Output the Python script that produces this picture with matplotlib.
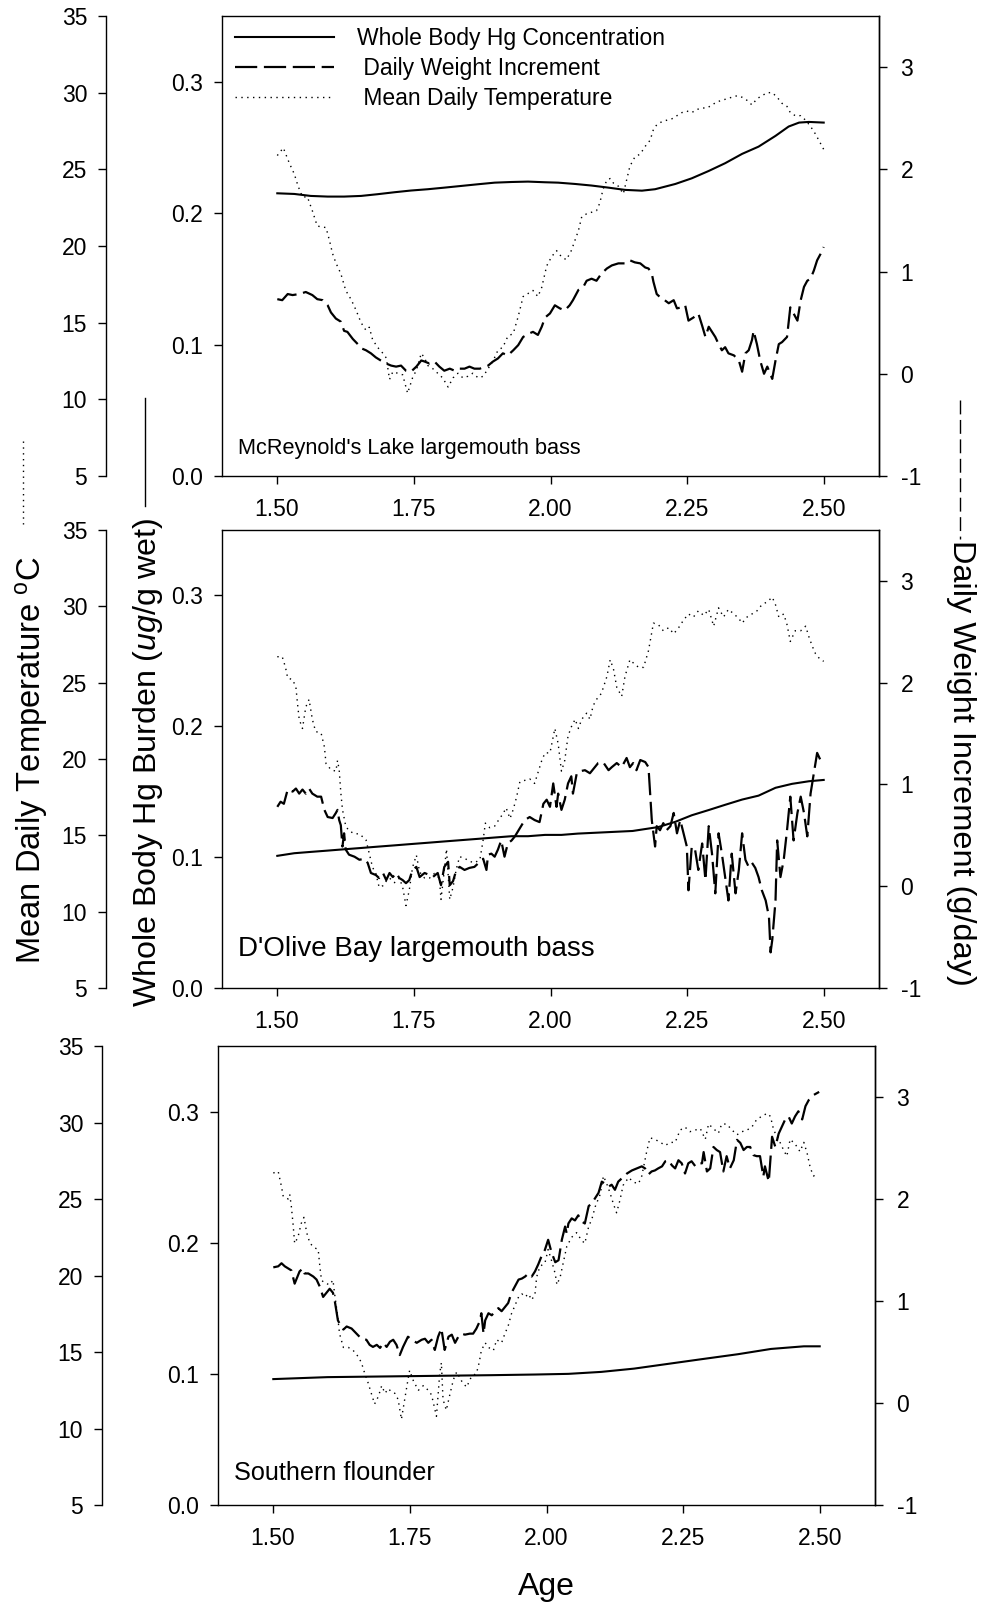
import matplotlib
matplotlib.use('Agg')
import matplotlib.pyplot as plt
from matplotlib.lines import Line2D

plt.rcParams['font.family'] = ['Liberation Sans', 'DejaVu Sans']
plt.rcParams['mathtext.fontset'] = 'custom'
plt.rcParams['mathtext.rm'] = 'Liberation Sans'
plt.rcParams['mathtext.it'] = 'Liberation Sans:italic'

# ---------------- data: McReynold's Lake largemouth bass ----------------
mc_temp_age = [1.501, 1.512, 1.523, 1.532, 1.539, 1.547, 1.556, 1.565, 1.574, 1.590, 1.596, 1.602,
               1.608, 1.617, 1.626, 1.636, 1.645, 1.654, 1.663, 1.669, 1.675, 1.684, 1.694, 1.700,
               1.706, 1.712, 1.721, 1.730, 1.739, 1.748, 1.755, 1.764, 1.770, 1.776, 1.785, 1.794,
               1.803, 1.813, 1.822, 1.831, 1.840, 1.849, 1.858, 1.868, 1.877, 1.886, 1.895, 1.904,
               1.913, 1.922, 1.932, 1.941, 1.950, 1.959, 1.968, 1.977, 1.984, 1.993, 2.002, 2.011,
               2.020, 2.029, 2.038, 2.045, 2.051, 2.057, 2.066, 2.075, 2.084, 2.090, 2.096, 2.103,
               2.109, 2.115, 2.124, 2.133, 2.139, 2.145, 2.154, 2.164, 2.173, 2.182, 2.188, 2.194,
               2.203, 2.212, 2.222, 2.231, 2.240, 2.249, 2.258, 2.267, 2.277, 2.286, 2.295, 2.304,
               2.313, 2.322, 2.331, 2.341, 2.350, 2.359, 2.368, 2.377, 2.386, 2.396, 2.405, 2.414,
               2.423, 2.432, 2.438, 2.447, 2.457, 2.466, 2.475, 2.484, 2.490, 2.499]
mc_temp = [25.9, 26.4, 25.4, 24.7, 23.9, 23.2, 23.2, 22.3, 21.3, 21.2, 20.4, 19.5,
           18.9, 18.2, 17.1, 16.5, 15.8, 15.0, 14.5, 14.7, 13.9, 13.4, 13.0, 12.7,
           11.3, 11.8, 11.7, 11.6, 10.4, 11.4, 11.9, 13.0, 12.7, 12.2, 12.0, 11.7,
           11.4, 10.8, 11.4, 11.7, 11.4, 11.5, 11.7, 11.4, 11.5, 12.0, 12.5, 13.2,
           13.4, 14.1, 14.3, 15.4, 16.7, 16.9, 17.1, 16.7, 17.3, 18.7, 19.3, 19.7,
           19.3, 19.1, 19.7, 20.4, 21.0, 21.9, 22.1, 22.2, 22.3, 22.8, 23.7, 24.3,
           24.4, 24.1, 23.9, 23.4, 24.3, 25.2, 25.8, 26.0, 26.5, 26.9, 27.6, 27.9,
           28.1, 28.2, 28.3, 28.5, 28.7, 28.8, 28.7, 28.9, 29.0, 29.0, 29.2, 29.4,
           29.5, 29.6, 29.7, 29.8, 29.7, 29.5, 29.2, 29.6, 29.8, 30.0, 30.0, 29.7,
           29.3, 29.1, 28.7, 28.5, 28.5, 28.2, 27.8, 27.3, 26.9, 26.3]

mc_wt_age = [1.501, 1.510, 1.520, 1.529, 1.541, 1.553, 1.565, 1.574, 1.584, 1.593, 1.599, 1.608,
             1.617, 1.623, 1.629, 1.639, 1.648, 1.654, 1.663, 1.672, 1.681, 1.690, 1.700, 1.709,
             1.718, 1.727, 1.736, 1.745, 1.755, 1.764, 1.770, 1.779, 1.788, 1.797, 1.806, 1.816,
             1.825, 1.834, 1.843, 1.852, 1.861, 1.871, 1.880, 1.886, 1.895, 1.904, 1.913, 1.922,
             1.932, 1.941, 1.950, 1.959, 1.968, 1.977, 1.984, 1.990, 1.999, 2.008, 2.017, 2.026,
             2.035, 2.041, 2.051, 2.060, 2.066, 2.075, 2.084, 2.093, 2.103, 2.112, 2.124, 2.136,
             2.145, 2.154, 2.164, 2.173, 2.179, 2.185, 2.188, 2.194, 2.200, 2.206, 2.216, 2.225,
             2.231, 2.240, 2.246, 2.252, 2.261, 2.270, 2.277, 2.283, 2.289, 2.295, 2.301, 2.307,
             2.313, 2.319, 2.325, 2.335, 2.344, 2.350, 2.356, 2.362, 2.368, 2.371, 2.377, 2.383,
             2.390, 2.396, 2.405, 2.411, 2.417, 2.423, 2.432, 2.438, 2.444, 2.451, 2.457, 2.463,
             2.469, 2.475, 2.481, 2.487, 2.493, 2.499]
mc_wt = [0.73, 0.72, 0.78, 0.77, 0.78, 0.80, 0.77, 0.73, 0.72, 0.67, 0.60, 0.54,
         0.51, 0.42, 0.41, 0.34, 0.29, 0.25, 0.23, 0.20, 0.16, 0.13, 0.10, 0.08,
         0.07, 0.08, 0.03, 0.02, 0.07, 0.13, 0.12, 0.10, 0.12, 0.07, 0.03, 0.05,
         0.03, 0.05, 0.05, 0.07, 0.05, 0.05, 0.07, 0.08, 0.12, 0.15, 0.20, 0.18,
         0.23, 0.28, 0.36, 0.39, 0.41, 0.38, 0.46, 0.55, 0.59, 0.67, 0.64, 0.62,
         0.67, 0.72, 0.82, 0.85, 0.91, 0.93, 0.91, 0.98, 1.03, 1.06, 1.08, 1.08,
         1.11, 1.09, 1.08, 1.04, 1.03, 0.98, 0.90, 0.78, 0.75, 0.73, 0.69, 0.72,
         0.64, 0.65, 0.67, 0.52, 0.55, 0.59, 0.47, 0.36, 0.46, 0.41, 0.36, 0.29,
         0.23, 0.26, 0.20, 0.18, 0.13, 0.02, 0.20, 0.23, 0.33, 0.42, 0.29, 0.13,
         0.00, 0.07, -0.05, 0.13, 0.29, 0.31, 0.36, 0.65, 0.59, 0.52, 0.72, 0.85,
         0.91, 0.93, 1.01, 1.11, 1.17, 1.24]

mc_hg_age = [1.501, 1.532, 1.562, 1.593, 1.623, 1.654, 1.684, 1.715, 1.745, 1.776, 1.806, 1.837,
             1.868, 1.898, 1.929, 1.959, 1.990, 2.014, 2.045, 2.075, 2.106, 2.136, 2.167, 2.191,
             2.228, 2.258, 2.289, 2.319, 2.350, 2.380, 2.411, 2.435, 2.454, 2.472, 2.499]
mc_hg = [0.2151, 0.2146, 0.2131, 0.2126, 0.2126, 0.2131, 0.2144, 0.2159, 0.2172, 0.2182, 0.2194, 0.2207,
         0.2220, 0.2232, 0.2237, 0.2240, 0.2235, 0.2232, 0.2222, 0.2210, 0.2194, 0.2177, 0.2171, 0.2182,
         0.2222, 0.2265, 0.2321, 0.2380, 0.2451, 0.2506, 0.2588, 0.2659, 0.2689, 0.2694, 0.2689]

# ---------------- data: D'Olive Bay largemouth bass ----------------
db_temp_age = [1.501, 1.510, 1.516, 1.520, 1.529, 1.535, 1.538, 1.541, 1.547, 1.553, 1.559, 1.565,
               1.571, 1.581, 1.587, 1.590, 1.599, 1.608, 1.611, 1.614, 1.617, 1.620, 1.626, 1.632,
               1.642, 1.651, 1.657, 1.663, 1.669, 1.675, 1.681, 1.687, 1.694, 1.700, 1.706, 1.715,
               1.724, 1.730, 1.736, 1.742, 1.748, 1.755, 1.761, 1.770, 1.779, 1.788, 1.797, 1.800,
               1.806, 1.810, 1.816, 1.822, 1.828, 1.834, 1.843, 1.852, 1.861, 1.871, 1.877, 1.881,
               1.889, 1.898, 1.907, 1.913, 1.919, 1.926, 1.932, 1.938, 1.944, 1.953, 1.962, 1.971,
               1.977, 1.984, 1.990, 1.999, 2.008, 2.014, 2.020, 2.026, 2.032, 2.038, 2.045, 2.051,
               2.057, 2.066, 2.072, 2.078, 2.084, 2.093, 2.103, 2.109, 2.115, 2.121, 2.130, 2.136,
               2.145, 2.151, 2.161, 2.170, 2.179, 2.188, 2.197, 2.206, 2.216, 2.225, 2.234, 2.243,
               2.252, 2.261, 2.270, 2.280, 2.289, 2.298, 2.307, 2.316, 2.325, 2.335, 2.344, 2.350,
               2.359, 2.368, 2.377, 2.386, 2.396, 2.405, 2.411, 2.417, 2.426, 2.432, 2.438, 2.447,
               2.457, 2.466, 2.472, 2.478, 2.484, 2.493, 2.499]
db_temp = [26.7, 26.7, 26.0, 25.3, 25.2, 24.7, 23.6, 22.6, 22.0, 23.4, 23.9, 22.6,
           21.8, 21.7, 20.8, 19.7, 19.3, 19.2, 19.9, 19.3, 17.8, 16.7, 15.6, 15.3,
           15.1, 15.1, 14.9, 14.7, 13.8, 12.9, 12.5, 11.6, 11.7, 12.0, 12.2, 11.9,
           12.2, 11.6, 10.4, 11.4, 12.9, 13.7, 12.6, 12.2, 12.2, 12.5, 12.2, 10.8,
           12.7, 14.1, 10.8, 11.6, 12.8, 13.6, 13.5, 13.3, 13.2, 13.4, 14.7, 15.8,
           15.5, 15.6, 16.1, 16.4, 16.8, 16.1, 16.7, 17.5, 18.5, 18.6, 18.7, 18.4,
           19.1, 19.9, 20.4, 20.4, 22.0, 21.0, 19.2, 19.9, 21.5, 22.1, 22.6, 22.0,
           22.6, 23.0, 22.6, 23.5, 23.9, 24.3, 25.4, 26.5, 25.9, 24.7, 24.1, 25.4,
           26.5, 26.3, 26.0, 26.0, 27.1, 28.9, 28.8, 28.4, 28.6, 28.2, 28.6, 29.1,
           29.5, 29.3, 29.7, 29.4, 29.8, 28.7, 29.9, 29.3, 29.8, 29.5, 29.2, 28.9,
           29.3, 29.5, 29.7, 30.1, 30.3, 30.6, 30.1, 29.3, 29.5, 28.8, 27.7, 28.4,
           28.4, 28.7, 28.0, 27.4, 26.9, 26.5, 26.4]

db_wt_age = [1.501, 1.507, 1.513, 1.520, 1.529, 1.535, 1.541, 1.547, 1.553, 1.559, 1.565, 1.574,
             1.581, 1.587, 1.593, 1.602, 1.608, 1.611, 1.614, 1.617, 1.620, 1.623, 1.626, 1.632,
             1.642, 1.651, 1.660, 1.666, 1.672, 1.681, 1.687, 1.694, 1.700, 1.706, 1.712, 1.718,
             1.724, 1.730, 1.736, 1.742, 1.748, 1.755, 1.761, 1.770, 1.779, 1.785, 1.794, 1.800,
             1.806, 1.813, 1.816, 1.822, 1.828, 1.834, 1.843, 1.852, 1.861, 1.871, 1.877, 1.883,
             1.886, 1.892, 1.898, 1.904, 1.910, 1.916, 1.922, 1.929, 1.935, 1.944, 1.953, 1.962,
             1.971, 1.980, 1.987, 1.993, 1.999, 2.005, 2.011, 2.014, 2.020, 2.026, 2.032, 2.038,
             2.041, 2.048, 2.054, 2.063, 2.072, 2.081, 2.087, 2.096, 2.106, 2.112, 2.121, 2.130,
             2.139, 2.145, 2.151, 2.157, 2.164, 2.173, 2.179, 2.182, 2.185, 2.188, 2.191, 2.194,
             2.200, 2.206, 2.212, 2.219, 2.225, 2.231, 2.237, 2.243, 2.249, 2.252, 2.258, 2.264,
             2.270, 2.277, 2.283, 2.289, 2.295, 2.301, 2.307, 2.313, 2.319, 2.325, 2.331, 2.338,
             2.344, 2.350, 2.356, 2.362, 2.368, 2.374, 2.380, 2.386, 2.393, 2.399, 2.402, 2.405,
             2.411, 2.414, 2.420, 2.426, 2.432, 2.438, 2.444, 2.451, 2.457, 2.463, 2.469, 2.475,
             2.481, 2.487, 2.493]
db_wt = [0.78, 0.83, 0.81, 0.95, 0.93, 0.96, 0.91, 0.95, 0.91, 0.96, 0.91, 0.88,
         0.88, 0.75, 0.68, 0.67, 0.72, 0.75, 0.65, 0.60, 0.39, 0.52, 0.36, 0.31,
         0.29, 0.26, 0.27, 0.23, 0.13, 0.11, 0.08, 0.13, 0.06, 0.13, 0.09, 0.13,
         0.08, 0.06, 0.03, 0.06, 0.16, 0.19, 0.09, 0.13, 0.11, 0.09, 0.13, 0.01,
         0.19, 0.24, 0.01, 0.05, 0.16, 0.19, 0.16, 0.18, 0.19, 0.24, 0.27, 0.16,
         0.31, 0.32, 0.29, 0.36, 0.45, 0.29, 0.42, 0.45, 0.49, 0.57, 0.65, 0.68,
         0.65, 0.63, 0.81, 0.85, 0.78, 1.01, 0.78, 0.91, 0.75, 0.85, 1.01, 1.08,
         0.91, 1.11, 1.13, 1.14, 1.11, 1.17, 1.21, 1.22, 1.14, 1.17, 1.21, 1.17,
         1.26, 1.17, 1.21, 1.14, 1.24, 1.22, 1.17, 0.91, 0.65, 0.52, 0.39, 0.59,
         0.55, 0.62, 0.55, 0.59, 0.72, 0.52, 0.65, 0.52, 0.39, -0.04, 0.39, 0.36,
         0.16, 0.42, 0.06, 0.59, 0.32, -0.07, 0.52, 0.32, 0.09, -0.14, 0.32, -0.07,
         0.16, 0.52, 0.26, 0.19, 0.23, 0.18, 0.09, -0.04, -0.14, -0.30, -0.65, -0.53,
         -0.14, 0.45, 0.09, 0.26, 0.55, 0.88, 0.45, 0.72, 0.88, 0.72, 0.49, 0.91,
         1.11, 1.31, 1.24]

db_hg_age = [1.501, 1.532, 1.562, 1.593, 1.623, 1.654, 1.684, 1.715, 1.745, 1.776, 1.806, 1.837,
             1.868, 1.898, 1.929, 1.959, 1.990, 2.020, 2.050, 2.100, 2.150, 2.197, 2.228, 2.258,
             2.289, 2.319, 2.350, 2.380, 2.411, 2.441, 2.472, 2.499]
db_hg = [0.101, 0.103, 0.104, 0.105, 0.106, 0.107, 0.108, 0.109, 0.110, 0.111, 0.112, 0.113,
         0.114, 0.115, 0.116, 0.116, 0.117, 0.117, 0.118, 0.119, 0.120, 0.123, 0.127, 0.132,
         0.136, 0.140, 0.144, 0.147, 0.153, 0.156, 0.158, 0.159]

# ---------------- data: Southern flounder ----------------
sf_temp_age = [1.501, 1.510, 1.516, 1.519, 1.528, 1.531, 1.534, 1.537, 1.540, 1.546, 1.552, 1.557,
               1.562, 1.568, 1.577, 1.583, 1.586, 1.589, 1.595, 1.604, 1.610, 1.613, 1.618, 1.622,
               1.629, 1.638, 1.647, 1.656, 1.662, 1.668, 1.674, 1.680, 1.686, 1.693, 1.699, 1.705,
               1.711, 1.717, 1.723, 1.729, 1.735, 1.741, 1.747, 1.750, 1.757, 1.766, 1.775, 1.784,
               1.790, 1.799, 1.805, 1.808, 1.811, 1.817, 1.824, 1.830, 1.836, 1.845, 1.854, 1.863,
               1.872, 1.877, 1.881, 1.888, 1.894, 1.903, 1.909, 1.918, 1.924, 1.930, 1.936, 1.942,
               1.949, 1.955, 1.961, 1.967, 1.973, 1.979, 1.982, 1.988, 1.997, 2.003, 2.009, 2.016,
               2.019, 2.025, 2.031, 2.037, 2.046, 2.055, 2.064, 2.070, 2.077, 2.083, 2.089, 2.098,
               2.104, 2.110, 2.116, 2.122, 2.128, 2.134, 2.140, 2.150, 2.159, 2.168, 2.174, 2.183,
               2.189, 2.198, 2.208, 2.217, 2.226, 2.235, 2.244, 2.253, 2.262, 2.271, 2.281, 2.290,
               2.296, 2.305, 2.314, 2.320, 2.329, 2.339, 2.348, 2.357, 2.366, 2.375, 2.384, 2.393,
               2.403, 2.409, 2.415, 2.424, 2.433, 2.439, 2.445, 2.454, 2.463, 2.470, 2.476, 2.482,
               2.488, 2.494]
sf_temp = [26.7, 26.8, 25.8, 25.2, 25.0, 25.3, 24.5, 23.4, 22.1, 22.5, 23.4, 23.8,
           22.8, 22.1, 21.8, 21.7, 20.6, 19.7, 19.5, 19.4, 19.7, 18.8, 17.5, 16.2,
           15.3, 15.3, 15.1, 14.7, 14.3, 13.6, 13.0, 12.3, 11.6, 12.1, 12.8, 12.3,
           12.6, 12.4, 12.3, 11.9, 10.6, 11.9, 13.2, 13.8, 13.1, 12.5, 12.8, 12.5,
           12.2, 10.8, 13.6, 14.3, 11.9, 11.2, 12.3, 13.2, 13.7, 13.1, 12.7, 13.4,
           13.6, 14.3, 15.1, 15.6, 15.3, 15.1, 15.8, 15.6, 16.2, 16.7, 17.5, 18.0,
           18.6, 18.8, 18.6, 18.8, 18.4, 18.8, 19.9, 20.6, 20.8, 21.7, 21.0, 20.1,
           19.4, 19.9, 20.9, 21.9, 22.5, 22.8, 22.3, 22.1, 23.2, 23.7, 24.5, 25.3,
           26.5, 26.0, 25.4, 24.7, 24.1, 24.9, 25.9, 26.4, 26.1, 26.0, 26.5, 28.1,
           29.0, 28.9, 28.7, 28.5, 28.7, 28.7, 29.5, 29.7, 29.4, 29.5, 29.6, 28.9,
           29.9, 29.6, 29.3, 29.9, 29.9, 29.5, 29.2, 29.4, 29.5, 29.7, 30.2, 30.4,
           30.6, 30.4, 29.5, 28.9, 28.2, 27.8, 28.9, 28.6, 28.1, 28.7, 28.0, 27.0,
           26.5, 26.7]

sf_wt_age = [1.501, 1.510, 1.516, 1.522, 1.528, 1.534, 1.540, 1.543, 1.549, 1.555, 1.558, 1.565,
             1.574, 1.580, 1.586, 1.592, 1.598, 1.604, 1.610, 1.613, 1.616, 1.619, 1.622, 1.629,
             1.635, 1.644, 1.653, 1.662, 1.671, 1.677, 1.683, 1.690, 1.696, 1.702, 1.708, 1.714,
             1.720, 1.726, 1.732, 1.738, 1.747, 1.754, 1.763, 1.772, 1.778, 1.784, 1.790, 1.796,
             1.802, 1.808, 1.814, 1.821, 1.827, 1.833, 1.839, 1.845, 1.851, 1.860, 1.866, 1.872,
             1.878, 1.881, 1.885, 1.888, 1.894, 1.900, 1.906, 1.912, 1.918, 1.924, 1.930, 1.936,
             1.942, 1.949, 1.955, 1.961, 1.967, 1.973, 1.979, 1.985, 1.991, 1.997, 2.003, 2.009,
             2.016, 2.022, 2.028, 2.034, 2.037, 2.040, 2.046, 2.052, 2.058, 2.064, 2.070, 2.077,
             2.083, 2.089, 2.095, 2.101, 2.107, 2.113, 2.119, 2.125, 2.131, 2.137, 2.147, 2.156,
             2.165, 2.174, 2.180, 2.186, 2.192, 2.198, 2.204, 2.211, 2.217, 2.223, 2.229, 2.235,
             2.241, 2.247, 2.253, 2.259, 2.265, 2.272, 2.278, 2.284, 2.287, 2.293, 2.299, 2.305,
             2.311, 2.317, 2.323, 2.329, 2.335, 2.342, 2.348, 2.354, 2.360, 2.366, 2.372, 2.378,
             2.384, 2.390, 2.396, 2.399, 2.406, 2.412, 2.418, 2.424, 2.430, 2.436, 2.442, 2.448,
             2.454, 2.460, 2.467, 2.473, 2.479, 2.488, 2.498]
sf_wt = [1.33, 1.34, 1.37, 1.34, 1.32, 1.30, 1.17, 1.21, 1.29, 1.32, 1.27, 1.27,
         1.24, 1.21, 1.14, 1.04, 1.08, 1.12, 1.08, 1.01, 0.91, 0.81, 0.78, 0.72,
         0.75, 0.73, 0.68, 0.63, 0.62, 0.57, 0.55, 0.57, 0.54, 0.59, 0.55, 0.60,
         0.62, 0.57, 0.47, 0.55, 0.65, 0.62, 0.59, 0.62, 0.63, 0.59, 0.62, 0.52,
         0.65, 0.73, 0.52, 0.65, 0.67, 0.59, 0.65, 0.68, 0.67, 0.68, 0.68, 0.73,
         0.80, 0.88, 0.68, 0.81, 0.88, 0.86, 0.90, 0.93, 0.90, 0.94, 0.98, 1.08,
         1.14, 1.21, 1.22, 1.24, 1.27, 1.24, 1.29, 1.36, 1.44, 1.50, 1.60, 1.48,
         1.38, 1.40, 1.60, 1.73, 1.66, 1.76, 1.81, 1.79, 1.84, 1.78, 1.76, 1.93,
         1.96, 2.01, 2.06, 2.17, 2.15, 2.12, 2.14, 2.09, 2.17, 2.20, 2.25, 2.28,
         2.30, 2.32, 2.30, 2.24, 2.27, 2.28, 2.30, 2.32, 2.37, 2.38, 2.33, 2.30,
         2.38, 2.35, 2.25, 2.35, 2.37, 2.32, 2.35, 2.35, 2.46, 2.27, 2.30, 2.51,
         2.48, 2.46, 2.27, 2.42, 2.30, 2.38, 2.58, 2.55, 2.48, 2.51, 2.51, 2.43,
         2.42, 2.42, 2.22, 2.32, 2.17, 2.61, 2.51, 2.64, 2.71, 2.78, 2.81, 2.74,
         2.81, 2.86, 2.78, 2.91, 2.97, 3.02, 3.05]

sf_hg_age = [1.501, 1.600, 1.700, 1.800, 1.900, 1.980, 2.040, 2.100, 2.160, 2.220, 2.280, 2.350,
             2.410, 2.470, 2.499]
sf_hg = [0.096, 0.0975, 0.098, 0.0985, 0.099, 0.0995, 0.100, 0.1015, 0.104, 0.1075, 0.111, 0.115,
         0.119, 0.121, 0.121]

panel_labels = ["McReynold's Lake largemouth bass", "D'Olive Bay largemouth bass", "Southern flounder"]
panel_label_sizes = [15.7, 20, 18.2]
legend_labels = ['Whole Body Hg Concentration', ' Daily Weight Increment', ' Mean Daily Temperature']

hg_ticks = [0.0, 0.1, 0.2, 0.3]
temp_ticks = [5, 10, 15, 20, 25, 30, 35]
wt_ticks = [-1, 0, 1, 2, 3]
age_ticks = [1.50, 1.75, 2.00, 2.25, 2.50]

panels = [
    (mc_hg_age, mc_hg, mc_wt_age, mc_wt, mc_temp_age, mc_temp),
    (db_hg_age, db_hg, db_wt_age, db_wt, db_temp_age, db_temp),
    (sf_hg_age, sf_hg, sf_wt_age, sf_wt, sf_temp_age, sf_temp),
]

W, H = 981, 1610
fig = plt.figure(figsize=(W / 100, H / 100), dpi=100)

# pixel boxes (left, top, right, bottom)
boxes = [(222, 16, 879, 476), (222, 530, 879, 988), (218, 1046, 875, 1505)]
label_pos = [(0.024, 0.060), (0.024, 0.085), (0.024, 0.070)]

DASH = (0, (10, 3))
DOT = (0, (1, 3.2))
TS = 16.5

for i, (box, data) in enumerate(zip(boxes, panels)):
    l, t, r, b = box
    ax = fig.add_axes([l / W, 1 - b / H, (r - l) / W, (b - t) / H])
    axw = ax.twinx()
    axt = ax.twinx()
    hga, hg, wa, wv, ta, tv = data

    lw_line, = axw.plot(wa, wv, color='black', lw=1.6, linestyle=DASH)
    lt_line, = axt.plot(ta, tv, color='black', lw=1.0, linestyle=DOT)
    lh_line, = ax.plot(hga, hg, color='black', lw=1.5)

    ax.set_xlim(1.4, 2.6)
    ax.set_ylim(0, 0.35)
    axw.set_ylim(-1, 3.5)
    axt.set_ylim(5, 35)

    ax.set_xticks(age_ticks)
    ax.set_xticklabels(['%.2f' % v for v in age_ticks])
    ax.set_yticks(hg_ticks)
    ax.set_yticklabels(['%.1f' % v for v in hg_ticks])
    axw.set_yticks(wt_ticks)
    axw.set_yticklabels([str(v) for v in wt_ticks])
    axt.set_yticks(temp_ticks)
    axt.set_yticklabels([str(v) for v in temp_ticks])

    for a in (ax, axw, axt):
        for s in a.spines.values():
            s.set_linewidth(1.0)
    axt.spines['right'].set_visible(False)
    axt.spines['top'].set_visible(False)
    axt.spines['bottom'].set_visible(False)
    axt.spines['left'].set_position(('axes', -0.1766))
    axt.yaxis.set_ticks_position('left')
    axw.spines['left'].set_visible(False)
    axw.spines['top'].set_visible(False)
    axw.spines['bottom'].set_visible(False)

    ax.tick_params(axis='x', direction='out', length=5.5, width=1, labelsize=TS, pad=10.5)
    ax.tick_params(axis='y', direction='out', length=5.5, width=1, labelsize=TS, pad=8)
    axw.tick_params(axis='y', direction='out', length=5.5, width=1, labelsize=TS, pad=10)
    axt.tick_params(axis='y', direction='out', length=5.5, width=1, labelsize=TS, pad=8)

    ax.text(label_pos[i][0], label_pos[i][1], panel_labels[i], transform=ax.transAxes,
            fontsize=panel_label_sizes[i], ha='left', va='center')

    if i == 0:
        axt.legend([lh_line, lw_line, lt_line], legend_labels, loc='upper left',
                   bbox_to_anchor=(0.020, 0.977), frameon=False, fontsize=16.5,
                   handlelength=4.3, handletextpad=1.0, labelspacing=0.32,
                   borderaxespad=0, borderpad=0)

# side axis titles with line samples
fig.text(32 / W, 1 - 760 / H, 'Mean Daily Temperature $^{\\mathrm{o}}$C', rotation=90,
         fontsize=23.6, ha='center', va='center')
fig.add_artist(Line2D([23 / W, 23 / W], [1 - 441 / H, 1 - 524 / H], transform=fig.transFigure,
                      color='black', lw=1.0, linestyle=DOT))

fig.text(148 / W, 1 - 762 / H, 'Whole Body Hg Burden ($\\mathit{ug}$/g wet)', rotation=90,
         fontsize=23.2, ha='center', va='center')
fig.add_artist(Line2D([145 / W, 145 / W], [1 - 398 / H, 1 - 506 / H], transform=fig.transFigure,
                      color='black', lw=1.0))

fig.text(961 / W, 1 - 763 / H, 'Daily Weight Increment (g/day)', rotation=270,
         fontsize=23.4, ha='center', va='center')
fig.add_artist(Line2D([960 / W, 960 / W], [1 - 400 / H, 1 - 539 / H], transform=fig.transFigure,
                      color='black', lw=1.0, linestyle=(0, (10, 4))))

fig.text(546 / W, 1 - 1587 / H, 'Age', fontsize=23, ha='center', va='center')

fig.savefig('out.png', dpi=100)
